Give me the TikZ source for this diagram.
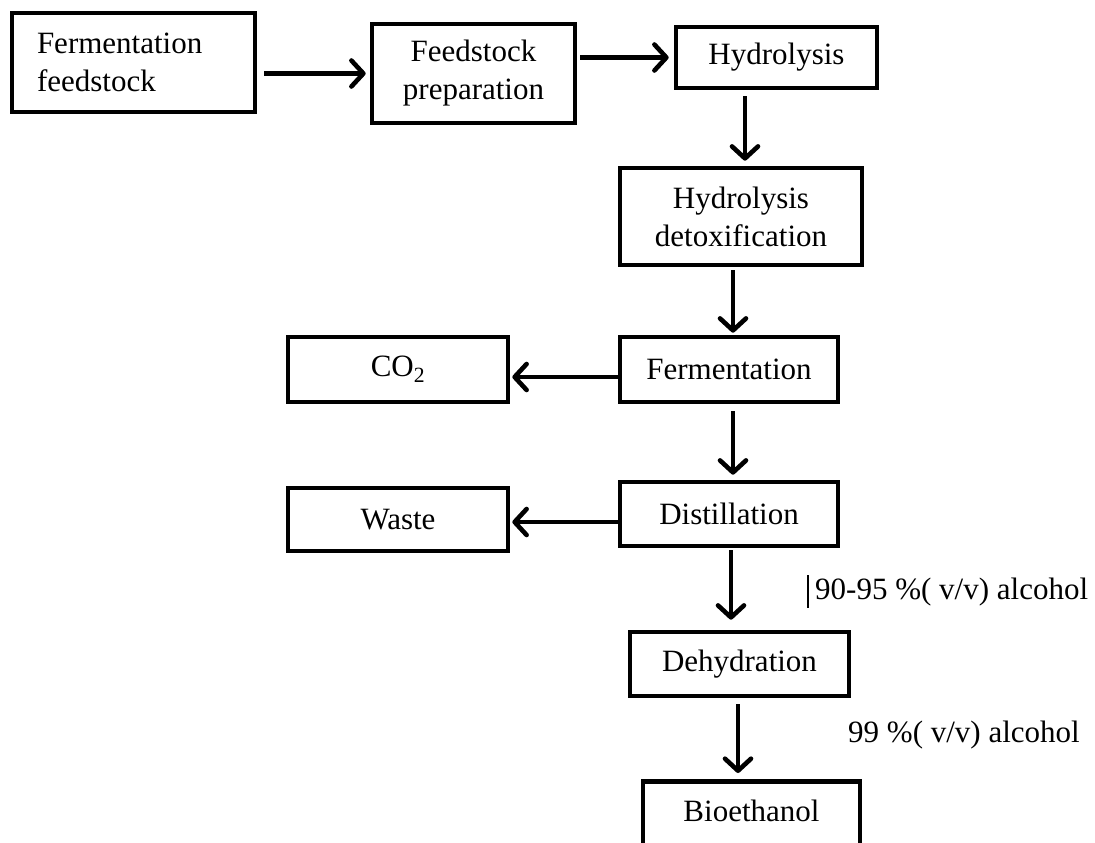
\documentclass[tikz,border=0pt]{standalone}
\usepackage{fontspec}
\setmainfont{Liberation Serif}
\usetikzlibrary{arrows.meta}
\begin{document}
\begin{tikzpicture}[x=1pt,y=-1pt,
  box/.style={draw=black, line width=4.6pt, rectangle, inner sep=0pt, align=center,
    font=\fontsize{31}{38}\selectfont},
  arr/.style={line width=4.6pt, -{Straight Barb[length=12pt,width=26pt,line width=4.6pt,round]}},
  lbl/.style={font=\fontsize{31}{38}\selectfont, inner sep=0pt, anchor=west}]
\clip (0,0) rectangle (1095,843);
\useasboundingbox (0,0) rectangle (1095,843);
\fill[white] (0,0) rectangle (1095,843);
\node[box, minimum width=243pt, minimum height=99pt, text width=193pt, align=left] (b1) at (133.5,62.5) {Fermentation\\feedstock};
\node[box, minimum width=203pt, minimum height=99pt] (b2) at (473.5,73.5) {Feedstock\\preparation};
\node[box, minimum width=201pt, minimum height=61pt] (b3) at (776.5,57.5) {Hydrolysis};
\node[box, minimum width=242pt, minimum height=97pt] (b4) at (741,216.5) {Hydrolysis\\detoxification};
\node[box, minimum width=218pt, minimum height=65pt] (b5) at (729,369.5) {Fermentation};
\node[box, minimum width=220pt, minimum height=65pt] (co2) at (398,369.5) {CO\textsubscript{2}};
\node[box, minimum width=218pt, minimum height=64pt] (b6) at (729,514) {Distillation};
\node[box, minimum width=220pt, minimum height=63pt] (waste) at (398,519.5) {Waste};
\node[box, minimum width=219pt, minimum height=64pt] (b7) at (739.5,664) {Dehydration};
\node[box, minimum width=217pt, minimum height=64pt, anchor=north] (b8) at (751.5,779) {};
\node[font=\fontsize{31}{38}\selectfont, inner sep=0pt] (b8t) at (751.5,811) {Bioethanol};
\node[lbl] (l1) at (815,592) {90-95 \%( v/v) alcohol};
\node[lbl] (l2) at (848,735) {99 \%( v/v) alcohol};
\draw[line width=1.8pt] ([xshift=-7pt,yshift=17pt]l1.west) -- ([xshift=-7pt,yshift=-16pt]l1.west);
\draw[arr, shorten <=7pt, shorten >=4pt] (b1.east |- b2.west) -- (b2.west);
\draw[arr, shorten <=3pt, shorten >=5pt] (b2.east |- b3.west) -- (b3.west);
\draw[arr, shorten <=6pt, shorten >=5pt] ([xshift=-31.5pt]b3.south) -- ([xshift=-31.5pt]b3.south |- b4.north);
\draw[arr, shorten <=3pt, shorten >=2pt] ([xshift=-8pt]b4.south) -- ([xshift=-8pt]b4.south |- b5.north);
\draw[arr, shorten <=7pt, shorten >=5pt] ([xshift=4pt]b5.south) -- ([xshift=4pt]b6.north);
\draw[arr, shorten >=2pt] ([yshift=-7.5pt]b5.west) -- ([yshift=-7.5pt]b5.west -| co2.east);
\draw[arr, shorten >=2pt] ([yshift=-8pt]b6.west) -- ([yshift=-8pt]b6.west -| waste.east);
\draw[arr, shorten <=2pt, shorten >=10pt] ([xshift=2pt]b6.south) -- ([xshift=2pt]b6.south |- b7.north);
\draw[arr, shorten <=6pt, shorten >=6pt] ([xshift=-1.5pt]b7.south) -- ([xshift=-1.5pt]b7.south |- b8.north);
\end{tikzpicture}
\end{document}
